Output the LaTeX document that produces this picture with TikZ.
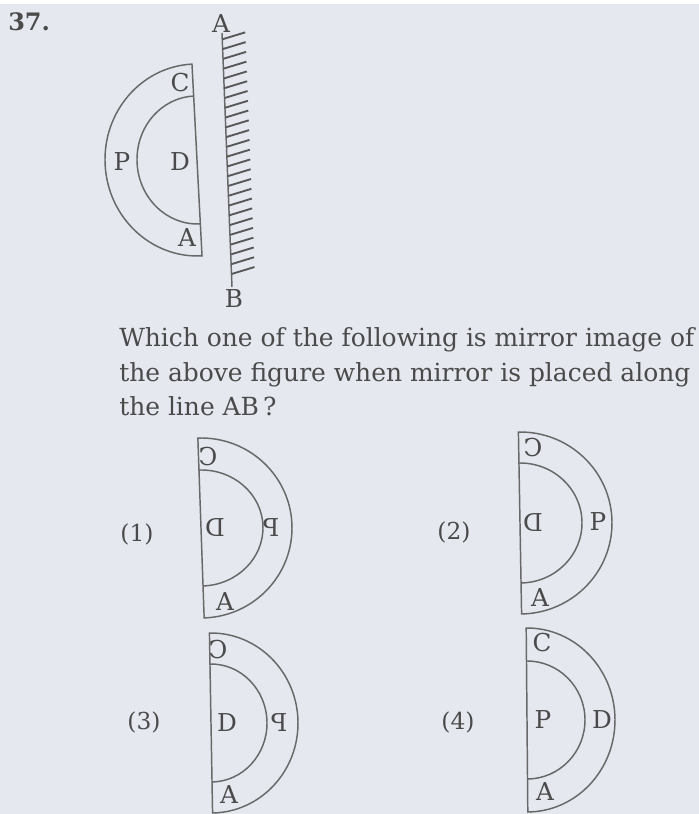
\documentclass[tikz,border=0pt]{standalone}
\usepackage{fontspec}
\setmainfont{DejaVu Serif}
\usepackage{graphicx}
\usetikzlibrary{calc}
\definecolor{bg}{HTML}{E5E8EF}
\definecolor{ink}{HTML}{4A4A4A}
\definecolor{ln}{HTML}{686868}
\begin{document}
\begin{tikzpicture}[x=0.75pt,y=0.75pt,
  shp/.style={draw=ln, line width=1.1pt},
  hatch/.style={draw=ln!85!black, line width=1.4pt},
  lbl/.style={text=ink, inner sep=0pt, font=\fontsize{18.5}{20}\selectfont},
  txt/.style={text=ink, inner sep=0pt, font=\fontsize{18.7}{22}\selectfont},
  optl/.style={text=ink, inner sep=0pt, font=\fontsize{17.5}{20}\selectfont}]
\fill[bg] (0,0) rectangle (699,814);
\useasboundingbox (0,0) rectangle (699,814);
\fill[white] (0,810) rectangle (699,814);
% question number
\node[anchor=west, text=ink, inner sep=0pt, font=\bfseries\fontsize{18}{20}\selectfont] (num) at (8,792) {37.};
% mirror
\coordinate (mtop) at (222,781);
\coordinate (mbot) at (232,527);
\draw[shp] (mtop) -- (mbot);
\foreach \i in {0,...,24}
  \draw[hatch] ($(mtop)!{0.025+\i*0.0385}!(mbot)$) -- ++(23,7);
\node[lbl, anchor=south] (mA) at (221,781) {A};
\node[lbl, anchor=north] (mB) at (234,525) {B};
% original figure
\begin{scope}[shift={(197,654)}, rotate=3]
\draw[shp] (0,96) arc[start angle=90,end angle=270,x radius=92,y radius=96] -- cycle;
\draw[shp] (0,64) arc[start angle=90,end angle=270,x radius=60,y radius=64];
\end{scope}
\node[lbl] (oC) at (180,731) {C};
\node[lbl] (oP) at (122,652) {P};
\node[lbl] (oD) at (180,652) {D};
\node[lbl] (oA) at (187,576) {A};
% question
\node[txt, anchor=base west] (q1) at (119,467) {Which one of the following is mirror image of};
\node[txt, anchor=base west] (q2) at (119,432) {the above figure when mirror is placed along};
\node[txt, anchor=base west] (q3) at (119,398) {the line AB\,?};
% option 1
\begin{scope}[shift={(201,286)}, rotate=2]
\draw[shp] (0,90) arc[start angle=90,end angle=-90,x radius=91,y radius=90] -- cycle;
\draw[shp] (0,58) arc[start angle=90,end angle=-90,x radius=62,y radius=58];
\end{scope}
\node[optl] (n1) at (137,280) {(1)};
\node[lbl] (aC) at (208,357) {\reflectbox{C}};
\node[lbl] (aD) at (215,286) {\reflectbox{D}};
\node[lbl] (aP) at (271,286) {\reflectbox{P}};
\node[lbl] (aA) at (225,212) {A};
% option 2
\begin{scope}[shift={(520,291)}, rotate=1]
\draw[shp] (0,91) arc[start angle=90,end angle=-90,x radius=92,y radius=91] -- cycle;
\draw[shp] (0,60) arc[start angle=90,end angle=-90,x radius=62,y radius=60];
\end{scope}
\node[optl] (n2) at (454,282) {(2)};
\node[lbl] (bC) at (533,366) {\reflectbox{C}};
\node[lbl] (bD) at (533,291) {\reflectbox{D}};
\node[lbl] (bP) at (598,292) {P};
\node[lbl] (bA) at (540,216) {A};
% option 3
\begin{scope}[shift={(211,91)}, rotate=1]
\draw[shp] (0,90) arc[start angle=90,end angle=-90,x radius=87,y radius=90] -- cycle;
\draw[shp] (0,59) arc[start angle=90,end angle=-90,x radius=56,y radius=59];
\end{scope}
\node[optl] (n3) at (144,92) {(3)};
\node[lbl] (cC) at (218,164) {\reflectbox{C}};
\node[lbl] (cD) at (227,91) {D};
\node[lbl] (cP) at (279,91) {\reflectbox{P}};
\node[lbl] (cA) at (229,19) {A};
% option 4
\begin{scope}[shift={(527,94)}, rotate=0.5]
\draw[shp] (0,92) arc[start angle=90,end angle=-90,x radius=88,y radius=92] -- cycle;
\draw[shp] (0,59) arc[start angle=90,end angle=-90,x radius=58,y radius=59];
\end{scope}
\node[optl] (n4) at (458,92) {(4)};
\node[lbl] (dC) at (542,171) {C};
\node[lbl] (dP) at (543,94) {P};
\node[lbl] (dD) at (602,94) {D};
\node[lbl] (dA) at (545,22) {A};
\end{tikzpicture}
\end{document}
